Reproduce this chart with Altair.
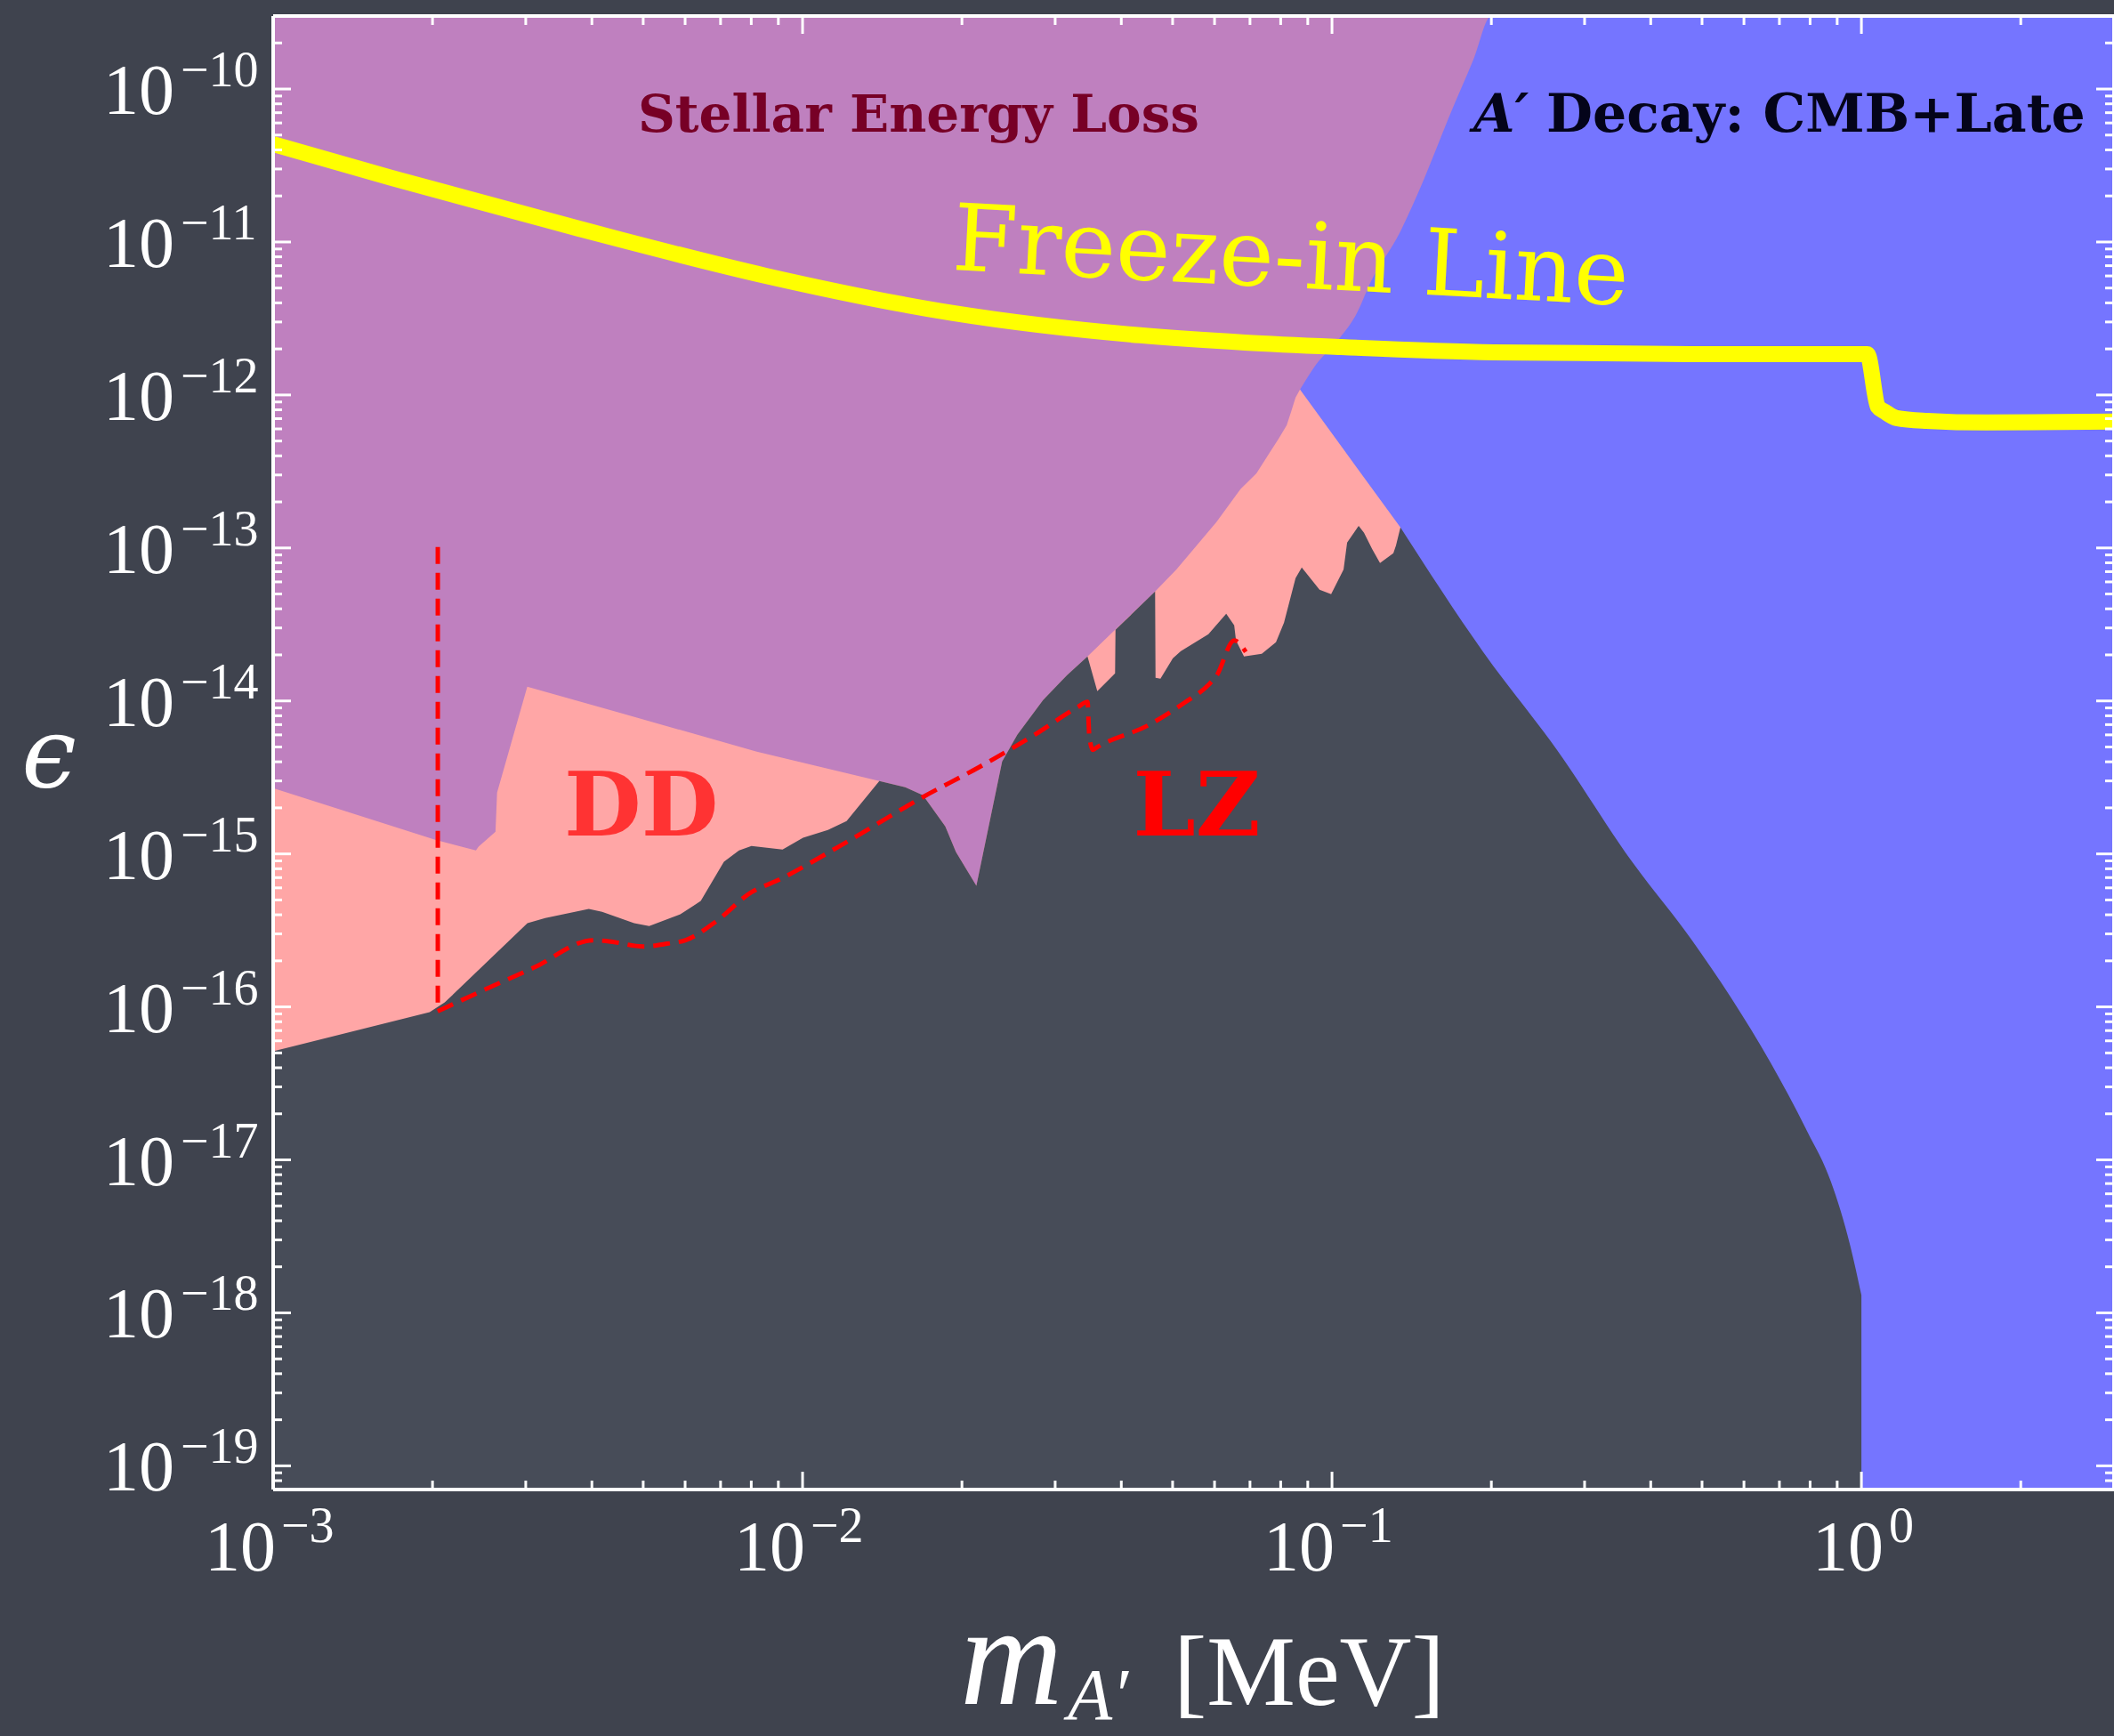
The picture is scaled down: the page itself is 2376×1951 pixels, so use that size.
import altair as alt
import numpy as np
import pandas as pd

# ---------------- axis extents ----------------
X_MIN, X_MAX = 1e-3, 3.0        # m_A' [MeV]
Y_MIN, Y_MAX = 7e-20, 3e-10     # epsilon

# ---------------- boundaries (log10 units) ----------------
# upper edge of the uncovered (dark) region, jagged part
dark_lm = [-3.000, -2.7044, -2.6759, -2.5197, -2.4861, -2.4038, -2.3787, -2.3182, -2.2897,
           -2.2309, -2.1923, -2.1486, -2.1200, -2.0965, -2.0378, -1.9991, -1.9521, -1.9168,
           -1.855, -1.806, -1.7725, -1.7304, -1.7103, -1.6717, -1.6230, -1.5944, -1.5457,
           -1.5004, -1.4618, -1.4433, -1.4097, -1.4089, -1.3341, -1.3333, -1.3240, -1.3005,
           -1.2854, -1.2334, -1.1998, -1.1847, -1.1813, -1.1662, -1.1326, -1.1058, -1.0906,
           -1.0688, -1.0571, -1.0235, -1.0016, -0.9781, -0.9714, -0.9496, -0.9395, -0.9244,
           -0.9093, -0.8841, -0.8791, -0.8707]
dark_le = [-16.291, -16.035, -15.971, -15.453, -15.419, -15.360, -15.378, -15.453, -15.471,
           -15.395, -15.308, -15.052, -14.977, -14.948, -14.971, -14.895, -14.843, -14.785,
           -14.523, -14.564, -14.616, -14.820, -14.988, -15.209, -14.395, -14.221, -13.994,
           -13.831, -13.709, -13.936, -13.820, -13.535, -13.285, -13.849, -13.855, -13.721,
           -13.674, -13.564, -13.430, -13.506, -13.605, -13.709, -13.692, -13.616, -13.488,
           -13.198, -13.128, -13.273, -13.302, -13.140, -12.965, -12.855, -12.901, -13.006,
           -13.099, -13.035, -12.983, -12.866]
# smooth edge between the dark region and the A' decay region
edge_lm = [-0.8707, -0.7144, -0.5751, -0.4340, -0.3215, -0.2460, -0.1704, -0.1049, -0.0579,
           -0.0209, 0.0]
edge_le = [-12.866, -13.680, -14.320, -15.047, -15.558, -15.942, -16.372, -16.797, -17.140,
           -17.564, -17.884]

# upper edge of the direct-detection (pink) region
dd_lm = [-3.000, -2.694, -2.617, -2.612, -2.580, -2.577, -2.520, -2.347, -2.0865, -1.855,
         -1.806, -1.7725, -1.7304, -1.7103, -1.6717, -1.6230, -1.5944, -1.5457, -1.5004,
         -1.4618, -1.4097, -1.3341, -1.2938, -1.2183, -1.1729, -1.1427, -1.1007, -1.0856,
         -1.0772, -1.0688, -1.0604, -0.8707]
dd_le = [-14.570, -14.907, -14.977, -14.953, -14.855, -14.599, -13.907, -14.076, -14.331, -14.523,
         -14.564, -14.616, -14.820, -14.988, -15.209, -14.395, -14.221, -13.994, -13.831,
         -13.709, -13.535, -13.285, -13.140, -12.831, -12.616, -12.512, -12.285, -12.198,
         -12.110, -12.017, -11.965, -12.866]

# upper-left edge of the A' decay (blue) region
decay_lm = [-1.0604, -1.0302, -0.9882, -0.9513, -0.9294, -0.8707, -0.8253, -0.7800, -0.7329,
            -0.6994, 0.4771]
decay_le = [-11.965, -11.802, -11.640, -11.453, -11.279, -10.930, -10.581, -10.192, -9.808,
            -9.523, -9.523]

# stellar energy loss region (right end, log10 m)
stellar_lm_max = -0.6994

# freeze-in line
fi_lm = [-3.0, -2.7767, -2.4223, -2.340, -2.0697, -1.7153, -1.3627, -1.1645, -0.9865, -0.6943,
         -0.3249, 0.0110, 0.0311, 0.0445, 0.0664, 0.1235, 0.2343, 0.4771]
fi_le = [-10.360, -10.581, -10.913, -10.988, -11.221, -11.465, -11.610, -11.657, -11.686, -11.721,
         -11.733, -11.733, -12.076, -12.110, -12.151, -12.169, -12.180, -12.174]

# dashed projection line
proj_lm = [-2.6893, -2.6205, -2.5080, -2.3955, -2.3686, -2.3014, -2.2561, -2.2208, -2.1637,
           -2.0965, -2.0478, -1.9320, -1.7725, -1.6683, -1.5642, -1.4803, -1.4618, -1.4584,
           -1.4517, -1.4433, -1.3459, -1.2787, -1.2334, -1.2183, -1.1847, -1.1628]
proj_le = [-16.029, -15.919, -15.744, -15.564, -15.570, -15.605, -15.587, -15.564, -15.442,
           -15.250, -15.174, -14.953, -14.628, -14.436, -14.227, -14.041, -14.006, -14.227,
           -14.320, -14.302, -14.157, -14.012, -13.895, -13.837, -13.605, -13.680]
vert_lm = -2.689
vert_le_top, vert_le_bot = -12.994, -15.988

# text labels (log10 positions)
label_text = ["Stellar Energy Loss", "A′", "Decay: CMB+Late", "Freeze-in Line", "DD", "LZ"]
label_lm = [-1.7808, -0.7329, -0.5952, -1.0806, -2.3048, -1.2552]
label_le = [-10.279, -10.279, -10.279, -11.297, -14.878, -14.878]

# tick values and tick labels
x_major = [1e-3, 1e-2, 1e-1, 1.0]
x_minor = [m * 10.0 ** e for e in (-3, -2, -1, 0) for m in range(2, 10) if m * 10.0 ** e < X_MAX]
y_major = [10.0 ** e for e in range(-19, -9)]
y_minor = [m * 10.0 ** e for e in range(-20, -9) for m in range(2, 10)
           if Y_MIN * 1.001 < m * 10.0 ** e < Y_MAX * 0.999]
x_label_neg_vals = [1e-3, 1e-2, 1e-1]
x_label_neg_exps = ["−3", "−2", "−1"]
x_label_zero_vals = [1.0]
x_label_zero_exps = ["0"]
y_label_vals = [10.0 ** e for e in range(-10, -20, -1)]
y_label_exps = ["−%d" % k for k in range(10, 20)]

# ---------------- layout / style ----------------
W, H = 2069, 1656
BG = "#3f434e"
DARK = "#474c58"
PURPLE = "#bf80bf"
BLUE = "#7575ff"
PINK = "#ffa6a6"
YELLOW = "#ffff00"
SERIF = "Liberation Serif"
BOLD_SERIF = "DejaVu Serif"

xs = alt.Scale(type="log", domain=[X_MIN, X_MAX], nice=False)
ys = alt.Scale(type="log", domain=[Y_MIN, Y_MAX], nice=False)


def frame(lm, le):
    return pd.DataFrame({
        "m": 10.0 ** np.array(lm, dtype=float),
        "eps": 10.0 ** np.array(le, dtype=float),
        "base": Y_MIN,
        "i": np.arange(len(lm)),
    })


X = lambda f="m": alt.X(f + ":Q", scale=xs, axis=None)
Y = lambda f="eps": alt.Y(f + ":Q", scale=ys, axis=None)


def region(lm, le, color, interp="linear"):
    return alt.Chart(frame(lm, le)).mark_area(
        color=color, opacity=1, interpolate=interp
    ).encode(x=X(), y=Y(), y2=alt.Y2("base:Q"))


stellar = alt.Chart(pd.DataFrame({"m0": [X_MIN], "m1": [10.0 ** stellar_lm_max],
                                  "e0": [Y_MIN], "e1": [Y_MAX]})).mark_rect(
    color=PURPLE, opacity=1).encode(x=X("m0"), x2="m1:Q", y=Y("e0"), y2="e1:Q")

decay = region(decay_lm, decay_le, BLUE, "monotone")
dd = region(dd_lm, dd_le, PINK)
dark = region(dark_lm, dark_le, DARK)
dark_edge = region(edge_lm, edge_le, DARK, "monotone")

freeze = alt.Chart(frame(fi_lm, fi_le)).mark_line(
    color=YELLOW, strokeWidth=18, interpolate="monotone", clip=True
).encode(x=X(), y=Y(), order="i:Q")

proj = alt.Chart(frame(proj_lm, proj_le)).mark_line(
    color="#ff0000", strokeWidth=5, strokeDash=[19, 10], interpolate="monotone"
).encode(x=X(), y=Y(), order="i:Q")

vert = alt.Chart(pd.DataFrame({"m": [10.0 ** vert_lm], "e0": [10.0 ** vert_le_top],
                               "e1": [10.0 ** vert_le_bot]})).mark_rule(
    color="#ff0000", strokeWidth=5, strokeDash=[19, 10]
).encode(x=X(), y=Y("e0"), y2="e1:Q")

lab = pd.DataFrame({"text": label_text, "m": 10.0 ** np.array(label_lm),
                    "eps": 10.0 ** np.array(label_le)})


def label(idx, **kw):
    return alt.Chart(lab.iloc[[idx]]).mark_text(baseline="alphabetic", **kw).encode(
        x=X(), y=Y(), text="text:N")


t_stellar = label(0, align="center", font=BOLD_SERIF, fontWeight="bold", fontSize=58, color="#770026")
t_aprime = label(1, align="left", font=BOLD_SERIF, fontWeight="bold", fontStyle="italic", fontSize=60, color="#04041a")
t_decay = label(2, align="left", font=BOLD_SERIF, fontWeight="bold", fontSize=60, color="#04041a")
t_freeze = label(3, align="center", font=BOLD_SERIF, fontSize=104, color=YELLOW, angle=3)
t_dd = label(4, align="center", font=BOLD_SERIF, fontWeight="bold", fontSize=100, color="#ff3333")
t_lz = label(5, align="center", font=BOLD_SERIF, fontWeight="bold", fontSize=100, color="#ff0000")

# ---------------- ticks (inward) ----------------
def xticks(vals, length):
    d = pd.DataFrame({"v": vals})
    top = alt.Chart(d).mark_rule(color="white", strokeWidth=3).encode(
        x=X("v"), y=alt.value(0), y2=alt.value(length))
    bot = alt.Chart(d).mark_rule(color="white", strokeWidth=3).encode(
        x=X("v"), y=alt.value(H), y2=alt.value(H - length))
    return [top, bot]


def yticks(vals, length):
    d = pd.DataFrame({"v": vals})
    left = alt.Chart(d).mark_rule(color="white", strokeWidth=3).encode(
        y=Y("v"), x=alt.value(0), x2=alt.value(length))
    right = alt.Chart(d).mark_rule(color="white", strokeWidth=3).encode(
        y=Y("v"), x=alt.value(W), x2=alt.value(W - length))
    return [left, right]


ticks = xticks(x_major, 20) + xticks(x_minor, 10) + yticks(y_major, 20) + yticks(y_minor, 10)

one = pd.DataFrame({"a": [0]})
frame_rules = [
    alt.Chart(one).mark_rule(color="white", strokeWidth=4).encode(
        x=alt.value(0), x2=alt.value(W), y=alt.value(0)),
    alt.Chart(one).mark_rule(color="white", strokeWidth=4).encode(
        x=alt.value(0), x2=alt.value(W), y=alt.value(H)),
    alt.Chart(one).mark_rule(color="white", strokeWidth=4).encode(
        y=alt.value(0), y2=alt.value(H), x=alt.value(0)),
    alt.Chart(one).mark_rule(color="white", strokeWidth=4).encode(
        y=alt.value(0), y2=alt.value(H), x=alt.value(W)),
]

# ---------------- tick labels ----------------
xneg = pd.DataFrame({"v": x_label_neg_vals, "exp": x_label_neg_exps})
xzero = pd.DataFrame({"v": x_label_zero_vals, "exp": x_label_zero_exps})
ylab = pd.DataFrame({"v": y_label_vals, "exp": y_label_exps})

tick_labels = []
for d, off in ((xneg, 3), (xzero, 25)):
    tick_labels.append(alt.Chart(d).mark_text(
        text="10", align="right", baseline="alphabetic", dx=off, font=SERIF,
        fontSize=80, color="white").encode(x=X("v"), y=alt.value(H + 91)))
    tick_labels.append(alt.Chart(d).mark_text(
        align="left", baseline="alphabetic", dx=off + 6, font=SERIF,
        fontSize=56, color="white").encode(x=X("v"), y=alt.value(H + 59), text="exp:N"))
tick_labels.append(alt.Chart(ylab).mark_text(
    text="10", align="right", baseline="alphabetic", dy=28, font=SERIF,
    fontSize=80, color="white").encode(y=Y("v"), x=alt.value(-111)))
tick_labels.append(alt.Chart(ylab).mark_text(
    align="left", baseline="alphabetic", dy=-3, font=SERIF,
    fontSize=56, color="white").encode(y=Y("v"), x=alt.value(-104), text="exp:N"))

# ---------------- axis titles ----------------
titles = [
    alt.Chart(one).mark_text(text="m", align="left", baseline="alphabetic", font=SERIF,
                             fontStyle="italic", fontSize=160, color="white").encode(
        x=alt.value(772), y=alt.value(1897)),
    alt.Chart(one).mark_text(text="A′", align="left", baseline="alphabetic", font=SERIF,
                             fontStyle="italic", fontSize=82, color="white").encode(
        x=alt.value(893), y=alt.value(1914)),
    alt.Chart(one).mark_text(text="[MeV]", align="left", baseline="alphabetic", font=SERIF,
                             fontSize=112, color="white").encode(
        x=alt.value(1012), y=alt.value(1898)),
    alt.Chart(one).mark_text(text="ϵ", align="center", baseline="middle", font=BOLD_SERIF,
                             fontStyle="italic", fontSize=110, color="white").encode(
        x=alt.value(-252), y=alt.value(833)),
]

layers = ([stellar, decay, dd, dark, dark_edge, freeze, proj, vert,
           t_stellar, t_aprime, t_decay, t_freeze, t_dd, t_lz]
          + ticks + frame_rules + tick_labels + titles)

chart = alt.layer(*layers).properties(
    width=W, height=H,
    background=BG,
    autosize=alt.AutoSizeParams(type="none"),
    padding={"left": 307, "top": 18, "right": 0, "bottom": 1951 - 18 - H},
).configure_view(stroke=None, fill=DARK)

chart.save("out.html", embed_options={"renderer": "svg", "actions": False})
